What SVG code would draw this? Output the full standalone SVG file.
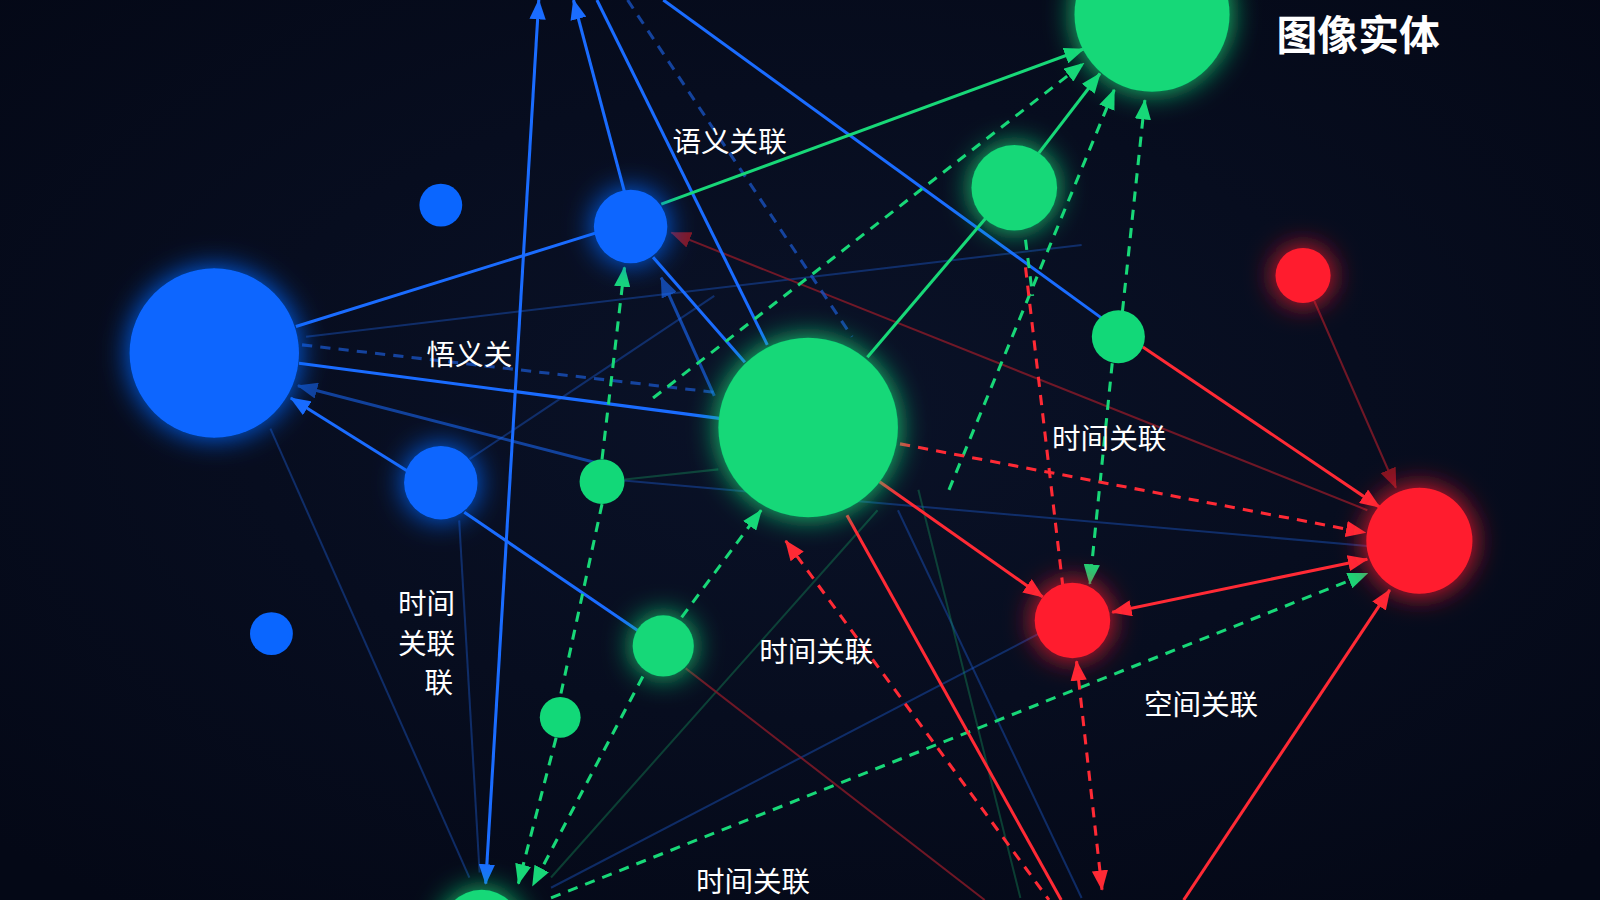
<svg xmlns="http://www.w3.org/2000/svg" width="1600" height="900" viewBox="0 0 1600 900">
<defs>
<radialGradient id="bg" cx="50%" cy="45%" r="70%">
<stop offset="0" stop-color="#0a1228"/>
<stop offset="1" stop-color="#040816"/>
</radialGradient>
<filter id="glow" x="-60%" y="-60%" width="220%" height="220%">
<feGaussianBlur in="SourceGraphic" stdDeviation="14" result="b"/>
<feMerge><feMergeNode in="b"/><feMergeNode in="SourceGraphic"/></feMerge>
</filter>
<marker id="ab" viewBox="0 0 20 16" markerWidth="20" markerHeight="16" refX="19" refY="8" orient="auto-start-reverse" markerUnits="userSpaceOnUse"><path d="M0,0 L20,8 L0,16 z" fill="#1a6cff"/></marker>
<marker id="ag" viewBox="0 0 20 16" markerWidth="20" markerHeight="16" refX="19" refY="8" orient="auto-start-reverse" markerUnits="userSpaceOnUse"><path d="M0,0 L20,8 L0,16 z" fill="#18d878"/></marker>
<marker id="ar" viewBox="0 0 20 16" markerWidth="20" markerHeight="16" refX="19" refY="8" orient="auto-start-reverse" markerUnits="userSpaceOnUse"><path d="M0,0 L20,8 L0,16 z" fill="#ff2a35"/></marker>
<marker id="adr" viewBox="0 0 20 16" markerWidth="20" markerHeight="16" refX="19" refY="8" orient="auto-start-reverse" markerUnits="userSpaceOnUse"><path d="M0,0 L20,8 L0,16 z" fill="#a01824"/></marker>
</defs>
<style>
.b{stroke:#1a6cff;stroke-width:3;fill:none}
.bf{stroke:#1a55c0;stroke-width:2;fill:none;opacity:0.45}
.g{stroke:#18d878;stroke-width:3;fill:none}
.gd{stroke:#18d878;stroke-width:3;fill:none;stroke-dasharray:10 8}
.gf{stroke:#18a060;stroke-width:2;fill:none;opacity:0.35}
.r{stroke:#ff2a35;stroke-width:3;fill:none}
.rd{stroke:#ff2a35;stroke-width:3;fill:none;stroke-dasharray:10 8}
.dr{stroke:#8a1a28;stroke-width:2;fill:none;opacity:0.8}
.bd{stroke:#1a55c8;stroke-width:3;fill:none;stroke-dasharray:10 8;opacity:0.75}
.nb{fill:#0a66ff}
.ng{fill:#12d878}
.nr{fill:#ff1e2d}
text{font-family:"Noto Sans CJK SC","Noto Sans",sans-serif;fill:#ffffff;font-size:28px;text-anchor:middle;dominant-baseline:central}
.title{font-size:40px;font-weight:bold}
</style>
<rect width="1600" height="900" fill="url(#bg)"/>
<g transform="scale(1.0204)">
<g id="connectors">
<line class="bf" x1="265" y1="420" x2="460" y2="860"/>
<line class="bf" x1="450" y1="510" x2="470" y2="855"/>
<line class="bf" x1="300" y1="330" x2="1060" y2="240"/>
<line class="bf" x1="460" y1="450" x2="700" y2="290"/>
<line class="bf" x1="880" y1="500" x2="1060" y2="880"/>
<line class="bf" x1="540" y1="870" x2="1020" y2="620"/>
<line class="bf" x1="600" y1="470" x2="1340" y2="535"/>
<line class="gf" x1="704" y1="460" x2="612" y2="470"/>
<line class="gf" x1="540" y1="860" x2="860" y2="500"/>
<line class="gf" x1="900" y1="480" x2="1000" y2="880"/>
<line class="dr" x1="1340" y1="500" x2="658" y2="228" marker-end="url(#adr)" opacity="0.5"/>
<line class="dr" x1="1288" y1="295" x2="1368" y2="478" marker-end="url(#adr)"/>
<line class="dr" x1="672" y1="655" x2="965" y2="882"/>
<line class="b" x1="290" y1="320" x2="585" y2="228"/>
<line class="b" x1="293" y1="356" x2="705" y2="410" stroke-width="4"/>
<line class="bd" x1="296" y1="338" x2="705" y2="385"/>
<line class="bd" x1="615" y1="0" x2="835" y2="330" stroke-width="2"/>
<line class="b" x1="400" y1="462" x2="285" y2="390" marker-end="url(#ab)"/>
<line class="b" x1="476" y1="866" x2="528" y2="0" marker-start="url(#ab)" marker-end="url(#ab)"/>
<line class="b" x1="612" y1="188" x2="562" y2="0" marker-end="url(#ab)"/>
<line class="b" x1="752" y1="338" x2="585" y2="0"/>
<line class="b" x1="1080" y1="312" x2="650" y2="0"/>
<line class="b" x1="730" y1="355" x2="640" y2="252"/>
<line class="b" x1="455" y1="502" x2="625" y2="618"/>
<line class="b" x1="700" y1="388" x2="648" y2="272" marker-end="url(#ab)" opacity="0.6"/>
<line class="b" x1="590" y1="455" x2="292" y2="378" marker-end="url(#ab)" opacity="0.55"/>
<line class="g" x1="648" y1="200" x2="1062" y2="48" marker-end="url(#ag)"/>
<line class="g" x1="850" y1="350" x2="966" y2="214"/>
<line class="g" x1="1018" y1="150" x2="1078" y2="72" marker-end="url(#ag)"/>
<line class="gd" x1="640" y1="390" x2="1062" y2="62" marker-end="url(#ag)"/>
<line class="gd" x1="1100" y1="305" x2="1122" y2="98" marker-end="url(#ag)"/>
<line class="gd" x1="1090" y1="356" x2="1068" y2="572" marker-end="url(#ag)"/>
<line class="gd" x1="930" y1="480" x2="1092" y2="88" marker-end="url(#ag)" stroke-width="2"/>
<line class="gd" x1="590" y1="450" x2="612" y2="262" marker-end="url(#ag)"/>
<line class="gd" x1="590" y1="494" x2="549" y2="683"/>
<line class="gd" x1="545" y1="723" x2="508" y2="866" marker-end="url(#ag)"/>
<line class="gd" x1="668" y1="605" x2="746" y2="500" marker-end="url(#ag)"/>
<line class="gd" x1="630" y1="663" x2="522" y2="868" marker-end="url(#ag)"/>
<line class="gd" x1="540" y1="880" x2="1340" y2="562" marker-end="url(#ag)" stroke="#1fc88a"/>
<line class="gd" x1="1005" y1="235" x2="1012" y2="290" stroke="#0e7a44" stroke-width="2"/>
<line class="r" x1="1120" y1="340" x2="1352" y2="497" marker-end="url(#ar)"/>
<line class="rd" x1="882" y1="435" x2="1338" y2="522" marker-end="url(#ar)"/>
<line class="r" x1="862" y1="472" x2="1022" y2="585" marker-end="url(#ar)"/>
<line class="r" x1="1090" y1="600" x2="1340" y2="548" marker-start="url(#ar)" marker-end="url(#ar)"/>
<line class="r" x1="830" y1="505" x2="1040" y2="882"/>
<line class="rd" x1="770" y1="530" x2="1028" y2="882" marker-start="url(#ar)"/>
<line class="rd" x1="1055" y1="648" x2="1080" y2="872" marker-start="url(#ar)" marker-end="url(#ar)"/>
<line class="r" x1="1160" y1="882" x2="1362" y2="578" marker-end="url(#ar)"/>
<line class="rd" x1="1005" y1="262" x2="1042" y2="578"/>
</g>
<g id="n-blue-big"><circle class="nb" cx="210" cy="346" r="83" filter="url(#glow)"/></g>
<g id="n-blue-1"><circle class="nb" cx="618" cy="222" r="36" filter="url(#glow)"/></g>
<g id="n-blue-2"><circle class="nb" cx="432" cy="201" r="21"/></g>
<g id="n-blue-3"><circle class="nb" cx="432" cy="473" r="36" filter="url(#glow)"/></g>
<g id="n-blue-4"><circle class="nb" cx="266" cy="621" r="21"/></g>
<g id="n-green-big"><circle class="ng" cx="792" cy="419" r="88" filter="url(#glow)"/></g>
<g id="n-green-top"><circle class="ng" cx="1129" cy="14" r="76" filter="url(#glow)"/></g>
<g id="n-green-1"><circle class="ng" cx="994" cy="184" r="42" filter="url(#glow)"/></g>
<g id="n-green-2"><circle class="ng" cx="1096" cy="330" r="26"/></g>
<g id="n-green-3"><circle class="ng" cx="590" cy="472" r="22"/></g>
<g id="n-green-4"><circle class="ng" cx="650" cy="633" r="30" filter="url(#glow)"/></g>
<g id="n-green-5"><circle class="ng" cx="549" cy="703" r="20"/></g>
<g id="n-green-bottom"><circle class="ng" cx="472" cy="912" r="40" filter="url(#glow)"/></g>
<g id="n-red-1"><circle class="nr" cx="1277" cy="270" r="27" filter="url(#glow)"/></g>
<g id="n-red-big"><circle class="nr" cx="1391" cy="530" r="52" filter="url(#glow)"/></g>
<g id="n-red-2"><circle class="nr" cx="1051" cy="608" r="37" filter="url(#glow)"/></g>
<g id="labels">
<text class="title" x="1331" y="32">图像实体</text>
<text x="715" y="137">语义关联</text>
<text x="460" y="345">悟义关</text>
<text x="1087" y="428">时间关联</text>
<text x="800" y="637">时间关联</text>
<text x="1177" y="688">空间关联</text>
<text x="418" y="589">时间</text>
<text x="418" y="629">关联</text>
<text x="430" y="667">联</text>
<text x="738" y="862">时间关联</text>
</g>
</g>
</svg>
